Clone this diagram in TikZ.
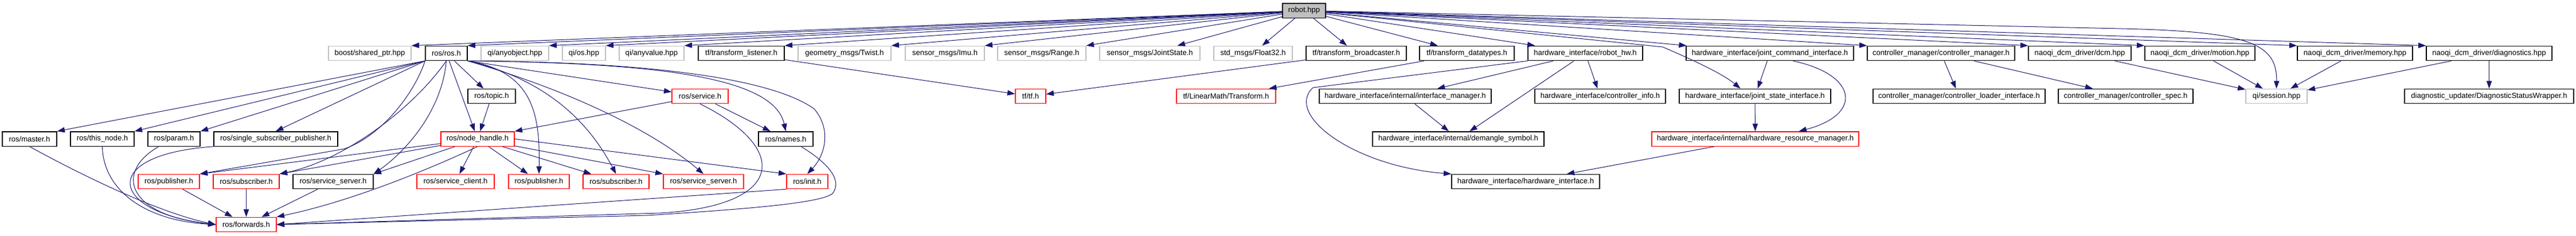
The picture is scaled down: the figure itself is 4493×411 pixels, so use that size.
\documentclass[tikz,border=0pt]{standalone}
\usepackage{fontspec}
\setmainfont{Liberation Sans}
\usetikzlibrary{arrows.meta}
\tikzset{>={Triangle[length=10pt,width=7pt]}}
\definecolor{edgeblue}{HTML}{191970}
\definecolor{boxgray}{HTML}{BFBFBF}
\definecolor{cutred}{HTML}{FF0000}

\begin{document}
\begin{tikzpicture}[x=0.75pt,y=-0.75pt,
  hfile/.style={draw=black, line width=1pt, minimum height=19pt, inner sep=0pt,
    font=\fontsize{9.8}{11}\selectfont},
  sysfile/.style={hfile, draw=boxgray},
  cutfile/.style={hfile, draw=cutred},
  mainfile/.style={hfile, fill=boxgray},
  inc/.style={->, draw=edgeblue, line width=0.75pt}]

  \useasboundingbox (0,0) rectangle (4493,411);

  % style, name, left, right, row, text
  \newcommand\incfile[6]{%
    \node[#1, minimum width={(#4-#3)*0.75pt}] (#2) at ({(#3+#4)/2},#5) {#6};}

  \incfile{mainfile}{robot}{2237}{2312}{18.5}{robot.hpp}

  % first level
  \incfile{sysfile}{boost}{573}{717}{93}{boost/shared\_ptr.hpp}
  \incfile{hfile}{ros}{742}{815}{93}{ros/ros.h}
  \incfile{sysfile}{qiobj}{839}{957}{93}{qi/anyobject.hpp}
  \incfile{sysfile}{qios}{981}{1056}{93}{qi/os.hpp}
  \incfile{sysfile}{qival}{1080}{1193}{93}{qi/anyvalue.hpp}
  \incfile{hfile}{tflis}{1218}{1368}{93}{tf/transform\_listener.h}
  \incfile{sysfile}{twist}{1392}{1554}{93}{geometry\_msgs/Twist.h}
  \incfile{sysfile}{imu}{1579}{1717}{93}{sensor\_msgs/Imu.h}
  \incfile{sysfile}{range}{1740}{1894}{93}{sensor\_msgs/Range.h}
  \incfile{sysfile}{jstate}{1918}{2093}{93}{sensor\_msgs/JointState.h}
  \incfile{sysfile}{float}{2117}{2254}{93}{std\_msgs/Float32.h}
  \incfile{hfile}{tfbro}{2278}{2453}{93}{tf/transform\_broadcaster.h}
  \incfile{hfile}{tfdat}{2476}{2641}{93}{tf/transform\_datatypes.h}
  \incfile{hfile}{rhw}{2665}{2865}{93}{hardware\_interface/robot\_hw.h}
  \incfile{hfile}{jcmd}{2941}{3233}{93}{hardware\_interface/joint\_command\_interface.h}
  \incfile{hfile}{cm}{3257}{3514}{93}{controller\_manager/controller\_manager.h}
  \incfile{hfile}{dcm}{3538}{3717}{93}{naoqi\_dcm\_driver/dcm.hpp}
  \incfile{hfile}{motion}{3741}{3933}{93}{naoqi\_dcm\_driver/motion.hpp}
  \incfile{hfile}{memory}{4007}{4208}{93}{naoqi\_dcm\_driver/memory.hpp}
  \incfile{hfile}{diag}{4232}{4451}{93}{naoqi\_dcm\_driver/diagnostics.hpp}

  % second level
  \incfile{hfile}{topic}{816}{899}{168}{ros/topic.h}
  \incfile{cutfile}{service}{1172}{1270}{168}{ros/service.h}
  \incfile{cutfile}{tf}{1771}{1824}{168}{tf/tf.h}
  \incfile{cutfile}{ltrans}{2052}{2225}{168}{tf/LinearMath/Transform.h}
  \incfile{hfile}{ifman}{2301}{2601}{168}{hardware\_interface/internal/interface\_manager.h}
  \incfile{hfile}{cinfo}{2677}{2905}{168}{hardware\_interface/controller\_info.h}
  \incfile{hfile}{jsi}{2929}{3193}{168}{hardware\_interface/joint\_state\_interface.h}
  \incfile{hfile}{cli}{3267}{3567}{168}{controller\_manager/controller\_loader\_interface.h}
  \incfile{hfile}{cspec}{3590}{3825}{168}{controller\_manager/controller\_spec.h}
  \incfile{sysfile}{session}{3917}{4024}{168}{qi/session.hpp}
  \incfile{hfile}{dsw}{4194}{4489}{168}{diagnostic\_updater/DiagnosticStatusWrapper.h}

  % third level
  \incfile{hfile}{master}{4}{99}{242.5}{ros/master.h}
  \incfile{hfile}{thisnode}{123}{234}{242.5}{ros/this\_node.h}
  \incfile{hfile}{param}{258}{349}{242.5}{ros/param.h}
  \incfile{hfile}{ssp}{373}{589}{242.5}{ros/single\_subscriber\_publisher.h}
  \incfile{cutfile}{nh}{769}{897}{242.5}{ros/node\_handle.h}
  \incfile{hfile}{names}{1323}{1418}{242.5}{ros/names.h}
  \incfile{hfile}{demangle}{2394}{2693}{242.5}{hardware\_interface/internal/demangle\_symbol.h}
  \incfile{cutfile}{hrm}{2881}{3242}{242.5}{hardware\_interface/internal/hardware\_resource\_manager.h}

  % fourth level
  \incfile{cutfile}{pubA}{241}{348}{317}{ros/publisher.h}
  \incfile{cutfile}{subA}{372}{487}{317}{ros/subscriber.h}
  \incfile{hfile}{srvA}{511}{651}{317}{ros/service\_server.h}
  \incfile{cutfile}{client}{727}{862}{317}{ros/service\_client.h}
  \incfile{cutfile}{pubB}{887}{993}{317}{ros/publisher.h}
  \incfile{cutfile}{subB}{1017}{1132}{317}{ros/subscriber.h}
  \incfile{cutfile}{srvB}{1157}{1297}{317}{ros/service\_server.h}
  \incfile{cutfile}{init}{1372}{1444}{317}{ros/init.h}
  \incfile{hfile}{hwi}{2532}{2790}{317}{hardware\_interface/hardware\_interface.h}

  \incfile{cutfile}{fwd}{377}{482}{392}{ros/forwards.h}

  % robot.hpp
  \draw[inc] (robot) -- (boost.north east);
  \draw[inc] (robot) -- (ros.north east);
  \draw[inc] (robot) -- (qiobj.north east);
  \draw[inc] (robot) -- (qios.north east);
  \draw[inc] (robot) -- (qival.north east);
  \draw[inc] (robot) -- (tflis.north east);
  \draw[inc] (robot) -- (twist.north east);
  \draw[inc] (robot) -- (imu.north east);
  \draw[inc] (robot) -- (range.north east);
  \draw[inc] (robot) -- (jstate);
  \draw[inc] (robot) -- (float);
  \draw[inc] (robot) -- (tfbro);
  \draw[inc] (robot) -- (tfdat);
  \draw[inc] (robot) -- (rhw);
  \draw[inc] (robot) -- (jcmd);
  \draw[inc] (robot) -- (cm.north west);
  \draw[inc] (robot) -- (dcm.north west);
  \draw[inc] (robot) -- (motion.north west);
  \draw[inc] (robot) -- (memory.north west);
  \draw[inc] (robot) -- (diag.north west);
  \draw[inc] (robot) -- (2900,82) .. controls (2930,95) and (3000,125) .. ([xshift=-19pt]jsi.north);
  \draw[inc] (robot) -- (3700,50) .. controls (3920,55) and (3972,75) .. (session.north);

  % ros/ros.h
  \draw[inc] (ros.south west) -- (master.north east);
  \draw[inc] (ros.south west) -- (thisnode.north east);
  \draw[inc] (ros.south west) -- (param.north east);
  \draw[inc] (ros.south west) -- (ssp.north);
  \draw[inc] (ros.south west) .. controls (720,170) and (660,240) .. (600,260) -- (pubA.north east);
  \draw[inc] (ros.south) .. controls (720,190) and (600,280) .. (subA.north east);
  \draw[inc] (ros.south) .. controls (770,200) and (700,270) .. (srvA.north east);
  \draw[inc] (ros) -- (topic);
  \draw[inc] (ros) -- (nh);
  \draw[inc] (ros.south east) -- (service);
  \draw[inc] (ros.south east) .. controls (1150,110) and (1350,135) .. (names.north);
  \draw[inc] (ros.south east) .. controls (1150,108) and (1350,140) .. (1420,190)
    .. controls (1450,225) and (1440,270) .. (init.north);
  \draw[inc] (ros.south east) .. controls (930,125) and (942,200) .. (pubB.north);
  \draw[inc] (ros.south east) .. controls (960,140) and (1030,220) .. (subB.north);
  \draw[inc] (ros.south east) .. controls (1000,160) and (1140,230) .. (srvB.north);

  \draw[inc] (topic) -- (nh);

  % ros/service.h
  \draw[inc] (service) -- (nh.north east);
  \draw[inc] (service) -- (names);
  \draw[inc] (service.south) .. controls (1380,260) and (1370,360) .. (1150,372) -- (fwd.east);

  % ros/node_handle.h
  \draw[inc] (nh) -- (client);
  \draw[inc] (nh) -- (pubB);
  \draw[inc] (nh) -- (subB);
  \draw[inc] (nh) -- (srvB.north west);
  \draw[inc] (nh.east) -- (init.north west);
  \draw[inc] (nh) -- (pubA.north east);
  \draw[inc] (nh) -- (subA.north east);
  \draw[inc] (nh) -- (srvA.north east);
  \draw[inc] (nh.south) .. controls (760,290) and (620,350) .. (fwd.north east);

  % into ros/forwards.h
  \draw[inc] (pubA) -- (fwd);
  \draw[inc] (subA) -- (fwd);
  \draw[inc] (srvA) -- (fwd);
  \draw[inc] (master.south) .. controls (150,310) and (280,372) .. (fwd.west);
  \draw[inc] (thisnode.south) .. controls (180,330) and (250,385) .. (fwd.west);
  \draw[inc] ([xshift=-20pt]param.south) .. controls (200,300) and (220,375) .. (fwd.west);
  \draw[inc] (ssp.south west) .. controls (170,270) and (190,370) .. (fwd.west);
  \draw[inc] (init.south west) -- (fwd.east);
  \draw[inc] ([xshift=20pt]names.south) .. controls (1445,285) and (1470,315) .. (1452,338)
    .. controls (1430,355) and (1300,365) .. (1130,376) -- (fwd.east);

  % tf
  \draw[inc] (tflis) -- (tf);
  \draw[inc] (tfbro) -- (tf);
  \draw[inc] (tfdat) -- (ltrans);

  % hardware_interface
  \draw[inc] (rhw) -- (ifman);
  \draw[inc] (rhw) -- (cinfo);
  \draw[inc] (rhw) -- (demangle);
  \draw[inc] (rhw.south west) -- (2290,153) .. controls (2240,200) and (2360,290) .. (hwi.north west);
  \draw[inc] (ifman) -- (demangle);
  \draw[inc] (jcmd) -- (jsi);
  \draw[inc] ([xshift=30pt]jcmd.south) .. controls (3240,130) and (3250,200) .. ([xshift=57pt]hrm.north);
  \draw[inc] (jsi) -- (hrm);
  \draw[inc] (hrm) -- (hwi);

  % controller_manager
  \draw[inc] (cm) -- (cli);
  \draw[inc] (cm) -- (cspec);

  % naoqi_dcm_driver
  \draw[inc] (dcm) -- (session);
  \draw[inc] (motion) -- (session);
  \draw[inc] (memory) -- (session);
  \draw[inc] (diag) -- (session);
  \draw[inc] (diag) -- (dsw);

\end{tikzpicture}
\end{document}
